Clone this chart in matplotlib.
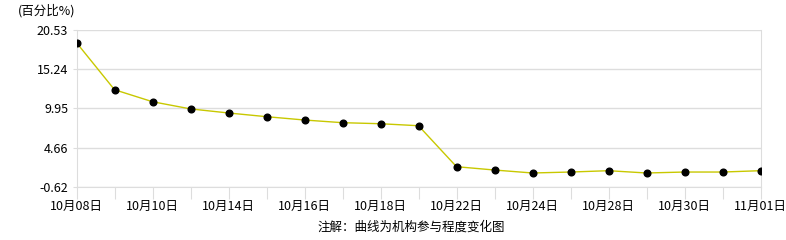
import matplotlib
matplotlib.use("Agg")
import matplotlib.pyplot as plt

plt.rcParams['font.family'] = ['Noto Sans CJK SC', 'DejaVu Sans']

dates = ['10月08日', '10月09日', '10月10日', '10月11日', '10月14日', '10月15日',
         '10月16日', '10月17日', '10月18日', '10月21日', '10月22日', '10月23日',
         '10月24日', '10月25日', '10月28日', '10月29日', '10月30日', '10月31日',
         '11月01日']
values = [18.82, 12.47, 10.85, 9.88, 9.33, 8.83, 8.38, 8.02, 7.88, 7.61,
          2.08, 1.63, 1.23, 1.36, 1.54, 1.23, 1.36, 1.36, 1.54]
y_ticks = [-0.62, 4.66, 9.95, 15.24, 20.53]
grid_col = '#dddddd'

fig = plt.figure(figsize=(7.86, 2.4), dpi=100)
ax = fig.add_axes([76.5 / 786, 53.3 / 240, 684 / 786, 156.7 / 240])

x = list(range(len(dates)))
ax.plot(x, values, color='#c8c800', lw=1, zorder=3)
ax.plot(x, values, 'o', color='black', ms=4.8, zorder=4)

ax.set_xlim(0, len(dates) - 1)
ax.set_ylim(y_ticks[0], y_ticks[-1])
ax.set_yticks(y_ticks)
ax.set_yticklabels([f'{v:.2f}' for v in y_ticks], fontsize=9)
ax.set_xticks(x)
ax.set_xticklabels([d if i % 2 == 0 else '' for i, d in enumerate(dates)], fontsize=9)
ax.tick_params(axis='x', length=8.5, color=grid_col, pad=1)
ax.tick_params(axis='y', length=3, color=grid_col, pad=3)
ax.grid(axis='y', color=grid_col, lw=1)

for s in ['left', 'right', 'bottom']:
    ax.spines[s].set_color(grid_col)
ax.spines['top'].set_visible(False)

fig.text(18 / 786, 1 - 11 / 240, '(百分比%)', fontsize=9, va='center', ha='left')
fig.text(411.7 / 786, 1 - 226.7 / 240, '注解：曲线为机构参与程度变化图', fontsize=9,
         va='center', ha='center')

fig.savefig('out.png', dpi=100)
